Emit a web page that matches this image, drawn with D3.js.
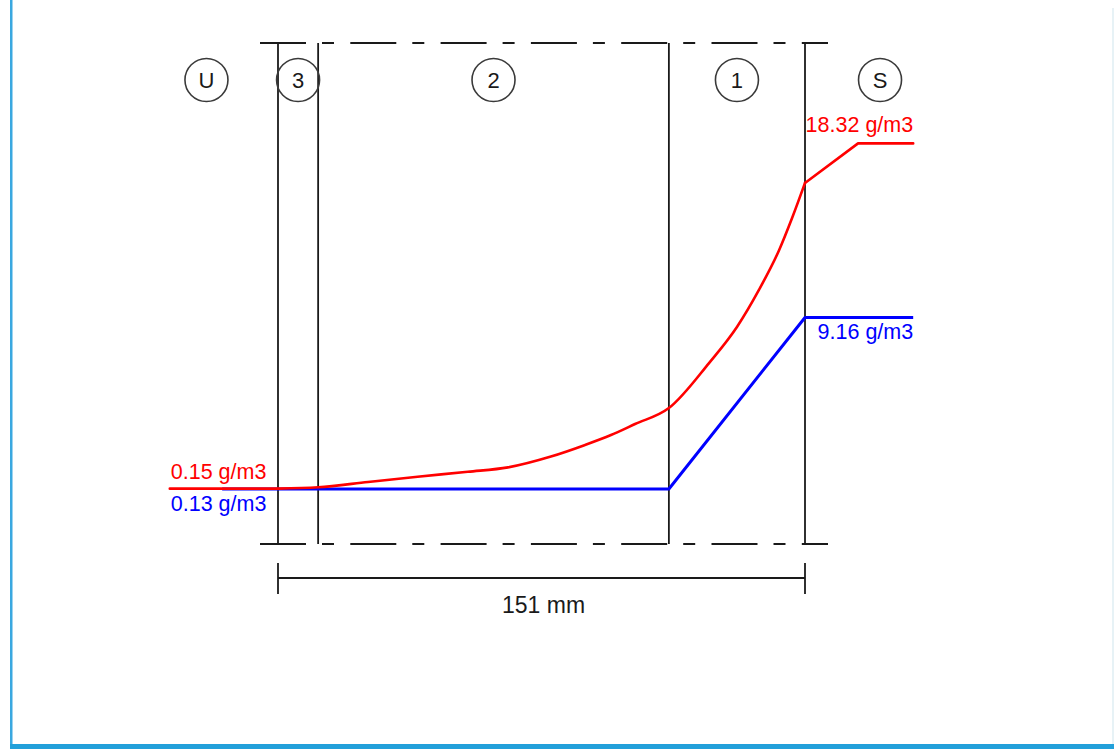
<!DOCTYPE html>
<html>
<head>
<meta charset="utf-8">
<script src="https://cdn.jsdelivr.net/npm/d3@7/dist/d3.min.js"></script>
<style>
  html, body { margin: 0; padding: 0; background: #fff; }
  svg { display: block; }
  text { font-family: "Liberation Sans", Arial, sans-serif; }
</style>
</head>
<body>
<svg id="chart" width="1114" height="749"></svg>
<script>
// ---- data ----
const wallThickness = 151; // mm
const layerBounds = [0, 11.5, 112, 151];          // mm, interfaces
const zoneNames = ["U", "3", "2", "1", "S"];
const redX = [-31, 0, 11.5, 25.8, 40, 54.4, 65.9, 78.2, 88, 95.4, 102.3, 112, 123.5, 131.5, 137.8, 143.6, 147.3, 151, 166.2, 182];
const redY = [0.15, 0.15, 0.22, 0.50, 0.78, 1.04, 1.27, 1.84, 2.45, 2.97, 3.55, 4.39, 6.76, 8.66, 10.61, 12.71, 14.39, 16.24, 18.32, 18.32];
const blueX = [-16, 112, 151, 182];
const blueY = [0.13, 0.13, 9.16, 9.16];
const labels = [
  { text: "0.15 g/m3", color: "#ff0000" },
  { text: "0.13 g/m3", color: "#0000ff" },
  { text: "18.32 g/m3", color: "#ff0000" },
  { text: "9.16 g/m3", color: "#0000ff" }
];

// ---- layout ----
const svg = d3.select("#chart");
const x = d3.scaleLinear().domain([0, wallThickness]).range([278, 805]);
const y = d3.scaleLinear().domain([0, 18.32]).range([491.5, 143.4]);
const topY = 43, botY = 544;

// frame borders
svg.append("rect").attr("x", 10).attr("y", 0).attr("width", 2.5).attr("height", 749).attr("fill", "#3aa8e0");
svg.append("rect").attr("x", 10).attr("y", 744).attr("width", 1104).attr("height", 5).attr("fill", "#22a0da");
svg.append("rect").attr("x", 1112.5).attr("y", 8).attr("width", 1).attr("height", 736).attr("fill", "#cfe6ee");

// dash-dot boundary lines (top/bottom)
[topY, botY].forEach(yy => {
  svg.append("line")
    .attr("x1", x(0) - 18).attr("x2", x(wallThickness) + 23)
    .attr("y1", yy).attr("y2", yy)
    .attr("stroke", "#1a1a1a").attr("stroke-width", 2)
    .attr("stroke-dasharray", "46,16,12,16.3");
});

// layer interfaces
svg.selectAll("line.iface").data(layerBounds).enter().append("line")
  .attr("class", "iface")
  .attr("x1", d => x(d)).attr("x2", d => x(d))
  .attr("y1", topY).attr("y2", botY)
  .attr("stroke", "#1a1a1a").attr("stroke-width", 1.8);

// zone label circles
const zoneCenters = [
  x(-20.5),
  ...d3.pairs(layerBounds).map(p => x((p[0] + p[1]) / 2)),
  x(172.5)
];
const zg = svg.selectAll("g.zone").data(zoneNames).enter().append("g")
  .attr("class", "zone")
  .attr("transform", (d, i) => `translate(${zoneCenters[i]},80)`);
zg.append("circle").attr("r", 21.5).attr("fill", "none")
  .attr("stroke", "#3a3a3a").attr("stroke-width", 1.6);
zg.append("text").text(d => d).attr("text-anchor", "middle").attr("dy", 8)
  .attr("font-size", 22).attr("fill", "#1a1a1a");

// curves
const line = d3.line().x(d => x(d[0])).y(d => y(d[1]));
const smooth = d3.line().x(d => x(d[0])).y(d => y(d[1])).curve(d3.curveMonotoneX);
svg.append("path").datum(d3.zip(blueX, blueY)).attr("d", line)
  .attr("fill", "none").attr("stroke", "#0000ff").attr("stroke-width", 3)
  .attr("stroke-linejoin", "round");
const redPts = d3.zip(redX, redY);
const inside = redPts.filter(d => d[0] >= 0 && d[0] <= wallThickness);
const before = redPts.filter(d => d[0] <= 0);
const after = redPts.filter(d => d[0] >= wallThickness);
[[before, line], [inside, smooth], [after, line]].forEach(([pts, gen]) => {
  svg.append("path").datum(pts).attr("d", gen)
    .attr("fill", "none").attr("stroke", "#ff0000").attr("stroke-width", 2.6)
    .attr("stroke-linejoin", "round").attr("stroke-linecap", "round");
});

// value labels
const lx0 = x(redX[0]), lx1 = x(redX[redX.length - 1]);
const labelPos = [
  { x: lx0 + 1, y: y(redY[0]) - 10, anchor: "start" },
  { x: lx0 + 1, y: y(blueY[0]) + 22, anchor: "start" },
  { x: lx1, y: y(redY[redY.length - 1]) - 11, anchor: "end" },
  { x: lx1, y: y(blueY[blueY.length - 1]) + 22, anchor: "end" }
];
svg.selectAll("text.val").data(labels).enter().append("text")
  .attr("class", "val")
  .attr("x", (d, i) => labelPos[i].x).attr("y", (d, i) => labelPos[i].y)
  .attr("text-anchor", (d, i) => labelPos[i].anchor)
  .attr("font-size", 21.5).attr("fill", d => d.color)
  .text(d => d.text);

// dimension line
const dimY = 578;
svg.append("line").attr("x1", x(0)).attr("x2", x(wallThickness))
  .attr("y1", dimY).attr("y2", dimY).attr("stroke", "#1a1a1a").attr("stroke-width", 1.8);
[0, wallThickness].forEach(v => {
  svg.append("line").attr("x1", x(v)).attr("x2", x(v))
    .attr("y1", 563).attr("y2", 594).attr("stroke", "#1a1a1a").attr("stroke-width", 1.8);
});
svg.append("text").attr("x", x(wallThickness / 2) + 2).attr("y", 613)
  .attr("text-anchor", "middle").attr("font-size", 23).attr("fill", "#1a1a1a")
  .text(wallThickness + " mm");
</script>
</body>
</html>
